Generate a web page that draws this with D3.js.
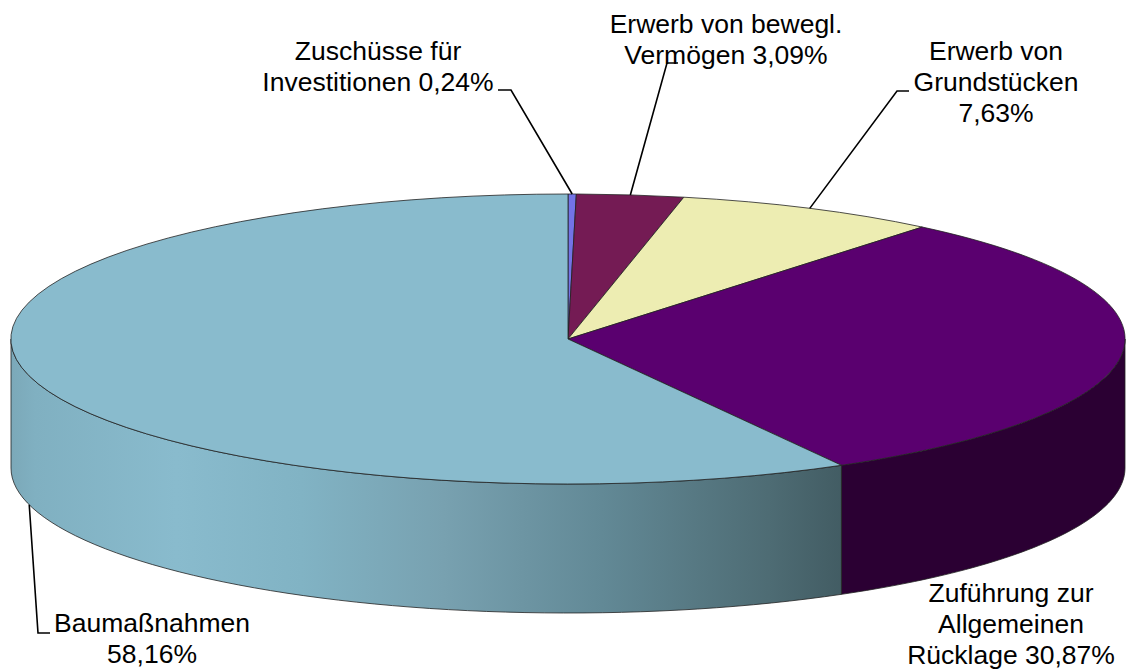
<!DOCTYPE html>
<html>
<head>
<meta charset="utf-8">
<script src="https://cdn.jsdelivr.net/npm/d3@7"></script>
<style>
  html, body { margin: 0; padding: 0; background: #fff; }
  svg { display: block; }
  text { font-family: "Liberation Sans", Arial, sans-serif; font-size: 26.5px; fill: #000; }
</style>
</head>
<body>
<div id="chart"></div>
<script>
  // Pie data, in drawing order (clockwise from 12 o'clock)
  const categories = ["Zuschüsse für Investitionen", "Erwerb von bewegl. Vermögen", "Erwerb von Grundstücken", "Zuführung zur Allgemeinen Rücklage", "Baumaßnahmen"];
  const values = [0.24, 3.09, 7.63, 30.87, 58.16];
  const labelLines = [
    ["Zuschüsse für", "Investitionen 0,24%"],
    ["Erwerb von bewegl.", "Vermögen 3,09%"],
    ["Erwerb von", "Grundstücken", "7,63%"],
    ["Zuführung zur", "Allgemeinen", "Rücklage 30,87%"],
    ["Baumaßnahmen", "58,16%"]
  ];
  const topColors = ["#7373e6", "#741b54", "#ededb2", "#5a006f", "#89bbcd"];

  (function () {
    const width = 1126, height = 672;
    const cx = 568, cy = 339, rx = 557, ry = 145, depth = 129;
    const lineHeight = 31;

    const svg = d3.select("#chart").append("svg")
      .attr("width", width)
      .attr("height", height);

    // Shaded side of the big slice
    const defs = svg.append("defs");
    const grad = defs.append("linearGradient")
      .attr("id", "sideBlue")
      .attr("gradientUnits", "userSpaceOnUse")
      .attr("x1", 10).attr("x2", 843).attr("y1", 0).attr("y2", 0);
    [[0, "#7ba8b8"], [0.03, "#80b0c1"], [0.2, "#89bbcd"], [0.35, "#81b3c4"], [0.52, "#78a1b0"], [0.71, "#628996"], [0.91, "#4e6c74"], [1, "#425c63"]]
      .forEach(s => grad.append("stop").attr("offset", s[0]).attr("stop-color", s[1]));

    const pie = d3.pie().sort(null).value(d => d);
    const slices = pie(values);

    // Angle (0 = top, clockwise) to a point on the rim
    const rimX = a => cx + rx * Math.sin(a);
    const rimY = a => cy - ry * Math.cos(a);

    // Outer wall of the slice between two angles
    function wallPath(a0, a1) {
      const p = d3.path();
      const pts = d3.range(0, 61).map(i => a0 + (a1 - a0) * i / 60);
      pts.forEach((a, i) => i ? p.lineTo(rimX(a), rimY(a)) : p.moveTo(rimX(a), rimY(a)));
      pts.reverse().forEach(a => p.lineTo(rimX(a), rimY(a) + depth));
      p.closePath();
      return p.toString();
    }

    // Only the front half of the rim shows a wall
    const front = [
      { a0: Math.PI / 2, a1: slices[3].endAngle, fill: "#2b0033" },
      { a0: slices[4].startAngle, a1: Math.PI * 1.5, fill: "url(#sideBlue)" }
    ];

    svg.selectAll("path.wall")
      .data(front)
      .enter()
      .append("path")
      .attr("class", "wall")
      .attr("d", d => wallPath(d.a0, d.a1))
      .attr("fill", d => d.fill)
      .attr("stroke", "#222")
      .attr("stroke-width", 0.8);

    // Top face: a unit pie squashed to the ellipse
    const arc = d3.arc().innerRadius(0).outerRadius(1);
    svg.append("g")
      .attr("transform", "translate(" + cx + "," + cy + ") scale(" + rx + "," + ry + ")")
      .selectAll("path.top")
      .data(slices)
      .enter()
      .append("path")
      .attr("class", "top")
      .attr("d", arc)
      .attr("fill", (d, i) => topColors[i])
      .attr("stroke", "#222")
      .attr("stroke-width", 0.8)
      .attr("vector-effect", "non-scaling-stroke");

    // Leader lines run from the slice's middle on the rim, via an elbow, to the label
    const leaders = [
      { elbow: [511, 90], end: [498, 90], drop: 0 },
      { elbow: [667, 63], end: [678, 63], drop: 0 },
      { elbow: [897, 91], end: [909, 91], drop: 0 },
      null,
      { elbow: [38, 633], end: [50, 633], drop: depth }
    ];
    const line = d3.line();
    svg.selectAll("path.leader")
      .data(slices.map((d, i) => ({ slice: d, leader: leaders[i] })).filter(d => d.leader))
      .enter()
      .append("path")
      .attr("class", "leader")
      .attr("fill", "none")
      .attr("stroke", "#000")
      .attr("stroke-width", 1.6)
      .attr("d", d => {
        const mid = (d.slice.startAngle + d.slice.endAngle) / 2;
        return line([[rimX(mid), rimY(mid) + d.leader.drop], d.leader.elbow, d.leader.end]);
      });

    // Labels, first baseline and centre of each block
    const labelPos = [[378, 60], [726, 33], [996, 60], [1011, 602], [152, 632]];
    const label = svg.selectAll("text.label")
      .data(labelLines)
      .enter()
      .append("text")
      .attr("class", "label")
      .attr("text-anchor", "middle")
      .attr("transform", (d, i) => "translate(" + labelPos[i][0] + "," + labelPos[i][1] + ")");

    label.selectAll("tspan")
      .data(d => d)
      .enter()
      .append("tspan")
      .attr("x", 0)
      .attr("y", (d, i) => i * lineHeight)
      .text(d => d);
  })();
</script>
</body>
</html>
